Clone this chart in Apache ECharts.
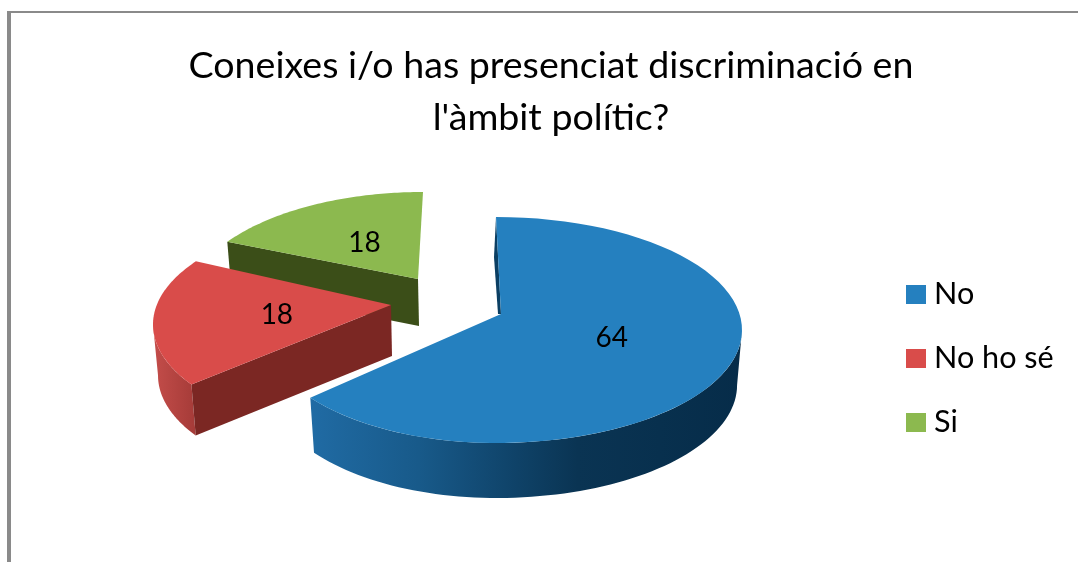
<!DOCTYPE html>
<html>
<head>
<meta charset="utf-8">
<style>html,body{margin:0;padding:0;background:#fff}#c{width:1078px;height:562px}</style>
<script src="https://cdn.jsdelivr.net/npm/echarts@6/dist/echarts.min.js"></script>
</head>
<body>
<div id="c"></div>
<script>
var categories = ['No', 'No ho sé', 'Si'];
var values = [64, 18, 18];
var titleLines = ['Coneixes i/o has presenciat discriminació en', "l'àmbit polític?"];

var FONT = 'Lato';
var colors = ['#2580bf', '#d94c4a', '#8cb94f'];
var edgeColors = ['#0d4468', '#7b2723', '#3b4e18'];
// Geometry of each exploded wedge: outer ellipse, projected apex, wall depth
var layouts = [
  {cx: 496, cy: 330, rxL: 232, rxR: 246, ry: 113, ax: 501, ay: 314, depth: 55, warp: 3.6, labelRatio: 0.48, labelDy: 1},
  {cx: 404, cy: 324.5, rxL: 251, rxR: 251, ry: 113, ax: 391, ay: 305, depth: 51, warp: 9.7, labelRatio: 0.48, labelDy: 3},
  {cx: 423, cy: 305, rxL: 236, rxR: 236, ry: 113, ax: 418, ay: 279, depth: 47, warp: 9.7, labelRatio: 0.52, labelDy: 3}
];
var LABEL_WARP = 9.7, WALL_SCALE = 0.98;
var total = values.reduce(function (a, b) { return a + b; }, 0);

function warp(deg, w) { return deg - w * Math.sin(deg * Math.PI / 180); }
function rim(g, deg, wall) {
  var r = deg * Math.PI / 180, s = Math.sin(r), c = Math.cos(r);
  var k = wall ? WALL_SCALE : 1;
  return [g.cx + (s < 0 ? g.rxL : g.rxR) * k * s, g.cy - g.ry * c + (wall ? g.depth : 0)];
}
function arc(g, a, b, wall) {
  var pts = [], n = 72;
  for (var i = 0; i <= n; i++) pts.push(rim(g, a + (b - a) * i / n, wall));
  return pts;
}
function poly(points, fill) {
  return {type: 'polygon', silent: true, shape: {points: points}, style: {fill: fill}};
}
function hGrad(stops) {
  return new echarts.graphic.LinearGradient(0, 0, 1, 0, stops.map(function (s) {
    return {offset: s[0], color: s[1]};
  }));
}
function makeRender(idx) {
  return function (params, api) {
    var before = 0;
    for (var i = 0; i < idx; i++) before += values[i];
    var v = api.value(0);
    var g = layouts[idx];
    var t0 = warp(before / total * 360, g.warp), t1 = warp((before + v) / total * 360, g.warp);
    var apex = [g.ax, g.ay], apexLow = [g.ax + 1, g.ay + g.depth];
    var kids = [];
    if (idx === 0) {
      // thin visible part of the wall at the start of the slice, then the outer wall
      var st = rim(g, t0, false);
      kids.push(poly([st, [st[0] - 2, st[1] + 40], [apex[0] - 3, apex[1]], apex], '#0b3f63'));
      kids.push(poly(arc(g, 90, t1, false).concat(arc(g, t1, 90, true)), hGrad([
        [0, '#206ba4'], [0.25, '#185a8a'], [0.45, '#10456c'], [0.62, '#0a3453'], [1, '#062c49']
      ])));
    } else if (idx === 1) {
      var lo = rim(g, t0, false), loW = rim(g, t0, true);
      kids.push(poly(arc(g, t0, 270, false).concat(arc(g, 270, t0, true)), hGrad([
        [0, '#c44d4a'], [1, '#a53b38']
      ])));
      kids.push(poly([apex, lo, loW, apexLow], edgeColors[1]));
    } else {
      var le = rim(g, t0, false), leW = rim(g, t0, true);
      kids.push(poly([apex, le, leW, apexLow], edgeColors[2]));
    }
    kids.push(poly([apex].concat(arc(g, t0, t1, false)), colors[idx]));
    var mid = rim(g, warp((before + v / 2) / total * 360, LABEL_WARP), false);
    kids.push({
      type: 'text', silent: true,
      style: {
        x: g.ax + (mid[0] - g.ax) * g.labelRatio,
        y: g.ay + (mid[1] - g.ay) * g.labelRatio + g.labelDy,
        text: String(v), fill: '#000', font: '28px ' + FONT,
        align: 'center', verticalAlign: 'middle'
      }
    });
    return {type: 'group', children: kids};
  };
}

var chart = echarts.init(document.getElementById('c'), null, {renderer: 'canvas'});
chart.setOption({
  animation: false,
  backgroundColor: '#ffffff',
  color: colors,
  title: {
    text: titleLines.join('\n'),
    left: 546, top: 35, textAlign: 'center',
    textStyle: {fontFamily: FONT, fontWeight: 'normal', fontSize: 37.6, lineHeight: 52, color: '#000'}
  },
  legend: {
    orient: 'vertical', left: 901, top: 274,
    itemWidth: 20, itemHeight: 19, itemGap: 33, icon: 'rect',
    data: categories,
    textStyle: {fontFamily: FONT, fontSize: 30.6, color: '#000', padding: [0, 0, 0, 3]}
  },
  graphic: [
    {type: 'rect', left: 7, top: 11, shape: {width: 4, height: 551}, style: {fill: '#8a8a8a'}, silent: true},
    {type: 'rect', left: 7, top: 11, shape: {width: 1071, height: 2}, style: {fill: '#8a8a8a'}, silent: true}
  ],
  series: categories.map(function (name, i) {
    return {
      type: 'custom', name: name, coordinateSystem: 'none',
      itemStyle: {color: colors[i]},
      z: 2 + (categories.length - i),
      data: [[values[i]]],
      renderItem: makeRender(i)
    };
  })
});
</script>
</body>
</html>
